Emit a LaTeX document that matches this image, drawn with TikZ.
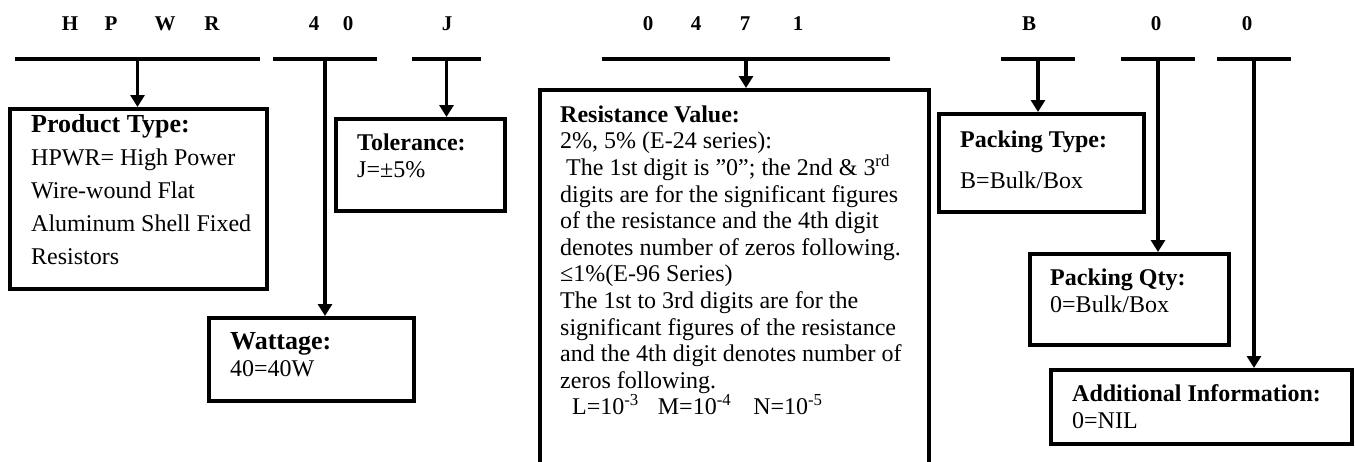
\documentclass[tikz,border=0pt]{standalone}
\usepackage{fontspec}
\setmainfont{Liberation Serif}
\usetikzlibrary{arrows.meta}
\lineskiplimit=-20pt

\begin{document}
\begin{tikzpicture}[x=1pt, y=-1pt, >={Triangle[width=14pt,length=12pt]}]

    \tikzstyle{bar}    = [rectangle, fill=black, inner sep=0pt, minimum height=4.5pt]
    \tikzstyle{box}    = [rectangle, draw=black, line width=3.5pt, inner sep=0pt, anchor=north west]
    \tikzstyle{codech} = [font=\fontsize{21}{24}\selectfont\bfseries, anchor=base, inner sep=0pt]
    \tikzstyle{desc}   = [font=\fontsize{24}{27}\selectfont, align=left, anchor=north west, inner sep=0pt]
    \tikzstyle{lead}   = [->, line width=3.5pt]

    \useasboundingbox (0,0) rectangle (1355,461);
    \clip (0,0) rectangle (1355,461);

    % part number letters
    \node (cH)   [codech] at (70,30)   {H};
    \node (cP)   [codech] at (111,30)  {P};
    \node (cW)   [codech] at (165,30)  {W};
    \node (cR)   [codech] at (212,30)  {R};
    \node (cfour)  [codech] at (314,30)  {4};
    \node (czero)  [codech] at (348,30)  {0};
    \node (cJ)   [codech] at (447,30)  {J};
    \node (rzero)  [codech] at (648,30)  {0};
    \node (rfour)  [codech] at (696,30)  {4};
    \node (rseven) [codech] at (745,30)  {7};
    \node (rone)   [codech] at (798,30)  {1};
    \node (cB)   [codech] at (1029,30) {B};
    \node (qzero)  [codech] at (1156,30) {0};
    \node (azero)  [codech] at (1247,30) {0};

    % bars under the letters
    \node (bprod) [bar, minimum width=245pt] at (137.5,59) {};
    \node (bwatt) [bar, minimum width=104pt] at (325,59)   {};
    \node (btol)  [bar, minimum width=69pt]  at (446.5,59) {};
    \node (bres)  [bar, minimum width=288pt] at (746,59)   {};
    \node (bpack) [bar, minimum width=74pt]  at (1038,59)  {};
    \node (bqty)  [bar, minimum width=74pt]  at (1158,59)  {};
    \node (badd)  [bar, minimum width=74pt]  at (1254,59)  {};

    % boxes
    \node (prod) [box, minimum width=257pt, minimum height=180pt] at (8,107)    {};
    \node (tol)  [box, minimum width=169pt, minimum height=92pt]  at (334,117)  {};
    \node (res)  [box, minimum width=389pt, minimum height=420pt] at (538,88)   {};
    \node (watt) [box, minimum width=205pt, minimum height=83pt]  at (207,316)  {};
    \node (pack) [box, minimum width=205pt, minimum height=98pt]  at (937,112)  {};
    \node (qty)  [box, minimum width=199pt, minimum height=91pt]  at (1028,252) {};
    \node (add)  [box, minimum width=301pt, minimum height=74pt]  at (1049,368) {};

    % texts in the boxes
    \node (prodtxt) [desc, font=\fontsize{24}{33}\selectfont] at (31,114)
        {{\fontsize{26}{33}\selectfont\bfseries Product Type:}\\HPWR= High Power\\Wire-wound Flat\\Aluminum Shell Fixed\\Resistors};
    \node (toltxt)  [desc] at (357,134) {\textbf{Tolerance:}\\J=±5\%};
    \node (restxt)  [desc, font=\fontsize{24}{26.6}\selectfont] at (560,105.5)
        {\textbf{Resistance Value:}\\
         2\%, 5\% (E-24 series):\\
         \hspace{6pt}The 1st digit is ”0”; the 2nd \& 3\textsuperscript{rd}\\
         digits are for the significant figures\\
         of the resistance and the 4th digit\\
         denotes number of zeros following.\\
         ≤1\%(E-96 Series)\\
         The 1st to 3rd digits are for the\\
         significant figures of the resistance\\
         and the 4th digit denotes number of\\
         zeros following.\\
         \hspace{12pt}L=10\textsuperscript{-3}\hspace{19pt}M=10\textsuperscript{-4}\hspace{22pt}N=10\textsuperscript{-5}};
    \node (watttxt) [desc] at (230,332)  {{\fontsize{26}{27}\selectfont\bfseries Wattage:}\\40=40W};
    \node (packtxt) [desc] at (960,131)  {\textbf{Packing Type:}\\[14pt]B=Bulk/Box};
    \node (qtytxt)  [desc] at (1050,269) {\textbf{Packing Qty:}\\0=Bulk/Box};
    \node (addtxt)  [desc] at (1072,384) {\textbf{Additional Information:}\\0=NIL};

    % arrows from the bars down to the boxes
    \path[lead] (bprod) edge (bprod |- prod.north);
    \path[lead] (bwatt) edge (bwatt |- watt.north);
    \path[lead] (btol)  edge (btol |- tol.north);
    \path[lead] (bres)  edge (bres |- res.north);
    \path[lead] (bpack) edge (bpack |- pack.north);
    \path[lead] (bqty)  edge (bqty |- qty.north);
    \path[lead] (badd)  edge (badd |- add.north);
\end{tikzpicture}
\end{document}
